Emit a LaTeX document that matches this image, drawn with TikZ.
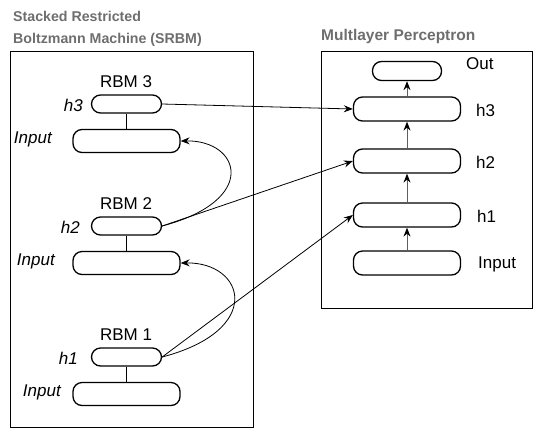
\documentclass[tikz,border=0pt]{standalone}
\usepackage{fontspec}
\setmainfont{Liberation Sans}
\usetikzlibrary{arrows.meta}
\definecolor{titlegray}{RGB}{110,110,110}
\definecolor{arrowgray}{RGB}{95,95,95}
\tikzset{
  pill/.style={draw, line width=1.3pt, rounded corners=9pt, inner sep=0pt},
  hid/.style={pill, minimum width=70pt, minimum height=18pt},
  vis/.style={pill, minimum width=107pt, minimum height=23pt},
  lbl/.style={font=\fontsize{17}{20}\selectfont, inner sep=0pt},
  title/.style={font=\fontsize{14.2}{17}\selectfont\bfseries, text=titlegray, inner sep=0pt},
  uparrow/.style={-{Stealth[length=9pt, width=7pt, inset=3pt, black]}, arrowgray, line width=1pt}
}
\begin{document}
\begin{tikzpicture}[x=1pt, y=-1pt, >={Stealth[length=9pt, width=7pt, inset=3pt]}]
        \useasboundingbox (0,0) rectangle (545,440);
        % titles
        \node[title, anchor=base west] (srbm) at (13,21) {Stacked Restricted};
        \node[title, anchor=base west] (srbm2) at (13,43) {Boltzmann Machine (SRBM)};
        \node[title, anchor=base west, font=\fontsize{15.5}{17}\selectfont\bfseries] (mlp) at (321,40) {Multlayer Perceptron};
        \draw[line width=1pt] (10,51) rectangle (253,427);
        \draw[line width=1pt] (321,51) rectangle (532,308);
        % stacked RBMs
        \foreach \i/\y/\hx/\vx in {1/357/78/61, 2/226/80/55, 3/104/83/52}{
          \node[hid] (h\i) at (126.5,\y) {};
          \node[vis] (v\i) at (126.5,\y+37) {};
          \draw[line width=1.3pt] (h\i) -- (v\i);
          \node[lbl] (rbm\i) at (126,\y-22) {RBM \i};
          \node[lbl, anchor=east] (hl\i) at (\hx,\y+1) {\itshape h\i};
          \node[lbl, anchor=east] (vl\i) at (\vx,\y+35) {\itshape Input};
        }
        % perceptron
        \node[pill, minimum width=69pt, minimum height=19pt] (out) at (407,71) {};
        \foreach \j/\y/\lx/\txt in {3/109/476/h3, 2/161/476/h2, 1/215/477/h1, 0/263/478/Input}{
          \node[pill, minimum width=107pt, minimum height=24pt] (m\j) at (407,\y) {};
          \node[lbl, anchor=west] (ml\j) at (\lx,\y+1) {\txt};
        }
        \node[lbl, anchor=west] (outl) at (466,64) {Out};
        \draw[uparrow] (m0) -- (m1);
        \draw[uparrow] (m1) -- (m2);
        \draw[uparrow] (m2) -- (m3);
        \draw[uparrow] (m3) -- (out);
        % connectors
        \draw[->, line width=0.8pt] (h3.east) -- (m3.west);
        \draw[->, line width=0.8pt] (h2.east) -- (m2.west);
        \draw[->, line width=0.8pt] (h1.east) -- (m1.west);
        \draw[->, line width=0.8pt] (h2.east) .. controls (260,200) and (240,140) .. (v3.east);
        \draw[->, line width=0.8pt] (h1.east) .. controls (265,330) and (245,262) .. (v2.east);
    \end{tikzpicture}
\end{document}
